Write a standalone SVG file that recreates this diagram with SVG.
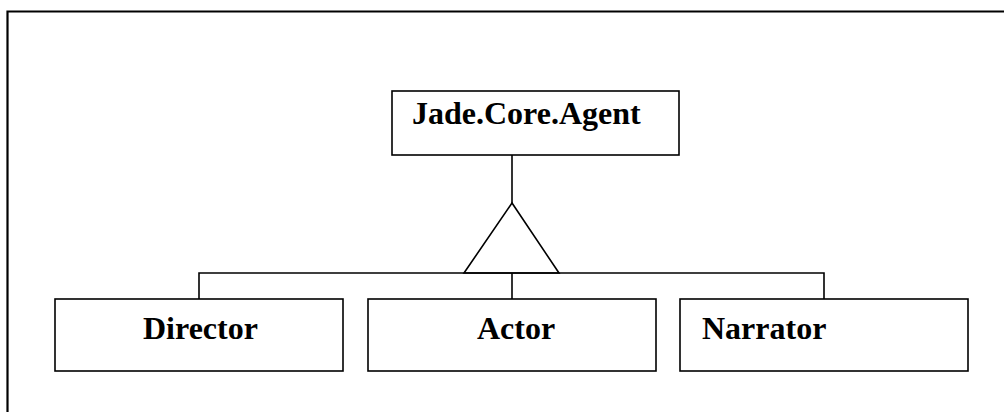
<svg xmlns="http://www.w3.org/2000/svg" width="1004" height="412" viewBox="0 0 1004 412">
  <style>
    .box { fill: #fff; stroke: #000; stroke-width: 1.6; }
    .lbl { font-family: "Liberation Serif", "Times New Roman", serif; font-weight: bold; font-size: 32px; fill: #000; }
    .conn { fill: none; stroke: #000; stroke-width: 1.6; }
  </style>
  <rect width="1004" height="412" fill="#fff"/>
  <!-- outer frame, open at right and bottom -->
  <path d="M7.5,412 V11.5 H1004" fill="none" stroke="#000" stroke-width="2.2"/>

  <g id="connectors">
    <line class="conn" x1="512" y1="155" x2="512" y2="203"/>
    <polygon class="conn" points="512,203 464,273 559,273"/>
    <path class="conn" d="M199,299 V273 H824 V299"/>
    <line class="conn" x1="512" y1="273" x2="512" y2="299"/>
  </g>

  <g id="agent">
    <rect class="box" x="392" y="91" width="287" height="64"/>
    <text class="lbl" x="412" y="124">Jade.Core.Agent</text>
  </g>
  <g id="director">
    <rect class="box" x="55" y="299" width="288" height="72"/>
    <text class="lbl" x="143" y="339">Director</text>
  </g>
  <g id="actor">
    <rect class="box" x="368" y="299" width="288" height="72"/>
    <text class="lbl" x="477" y="339">Actor</text>
  </g>
  <g id="narrator">
    <rect class="box" x="680" y="299" width="288" height="72"/>
    <text class="lbl" x="702" y="339">Narrator</text>
  </g>
</svg>
